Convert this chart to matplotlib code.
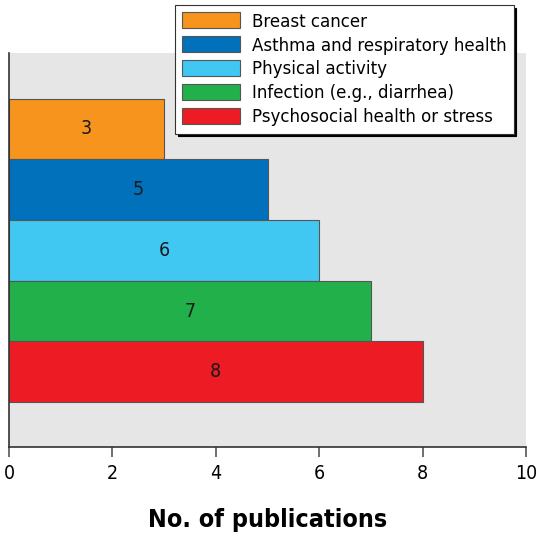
import matplotlib.pyplot as plt
from matplotlib.patches import Patch

# data, top to bottom
topics = ["Breast cancer", "Asthma and respiratory health", "Physical activity",
          "Infection (e.g., diarrhea)", "Psychosocial health or stress"]
counts = [3, 5, 6, 7, 8]
colors = ["#F7941D", "#0071BA", "#40C8F3", "#22B04B", "#ED1C24"]
xticks = [0, 2, 4, 6, 8, 10]

plt.rcParams["font.family"] = ["Liberation Sans Narrow", "DejaVu Sans"]
plt.rcParams["font.stretch"] = "condensed"

W, H = 537, 539
fig = plt.figure(figsize=(W / 100, H / 100), dpi=100)
ax = fig.add_axes([9 / W, (H - 447) / H, (526 - 9) / W, (447 - 53) / H])
ax.set_facecolor("#E6E6E6")

n = len(topics)
ypos = list(range(n - 1, -1, -1))
ax.barh(ypos, counts, height=1.0, color=colors, edgecolor="#555555", linewidth=0.8)
for y, c in zip(ypos, counts):
    ax.text(c / 2, y, str(c), ha="center", va="center", fontsize=14, color="#1a1a1a")

ax.set_xlim(0, 10)
ax.set_ylim(-0.5 - 0.74, n - 0.5 + 0.75)
ax.set_xticks(xticks)
ax.set_xticklabels([str(t) for t in xticks], fontsize=14)
ax.set_yticks([])
ax.tick_params(axis="x", direction="out", length=7, width=1.2, color="#555555", pad=5)
for s in ["top", "right"]:
    ax.spines[s].set_visible(False)
ax.spines["left"].set_linewidth(1.2)
ax.spines["bottom"].set_linewidth(1.2)
ax.spines["left"].set_color("#333333")
ax.spines["bottom"].set_color("#333333")
ax.set_xlabel("No. of publications", fontsize=18, fontweight="bold", labelpad=18)

handles = [Patch(facecolor=c, edgecolor="#555555", linewidth=0.8) for c in colors]
leg = fig.legend(handles, topics, loc="upper left", bbox_to_anchor=(175 / W, 1 - 5 / H),
                 fontsize=13.3, frameon=True, fancybox=False, shadow={"color": "black", "alpha": 1},
                 edgecolor="#333333", framealpha=1, handlelength=3.1, handleheight=0.95,
                 labelspacing=0.3, borderpad=0.4, handletextpad=0.65, borderaxespad=0)
leg.get_frame().set_linewidth(0.8)

fig.savefig("out.png", dpi=100)
